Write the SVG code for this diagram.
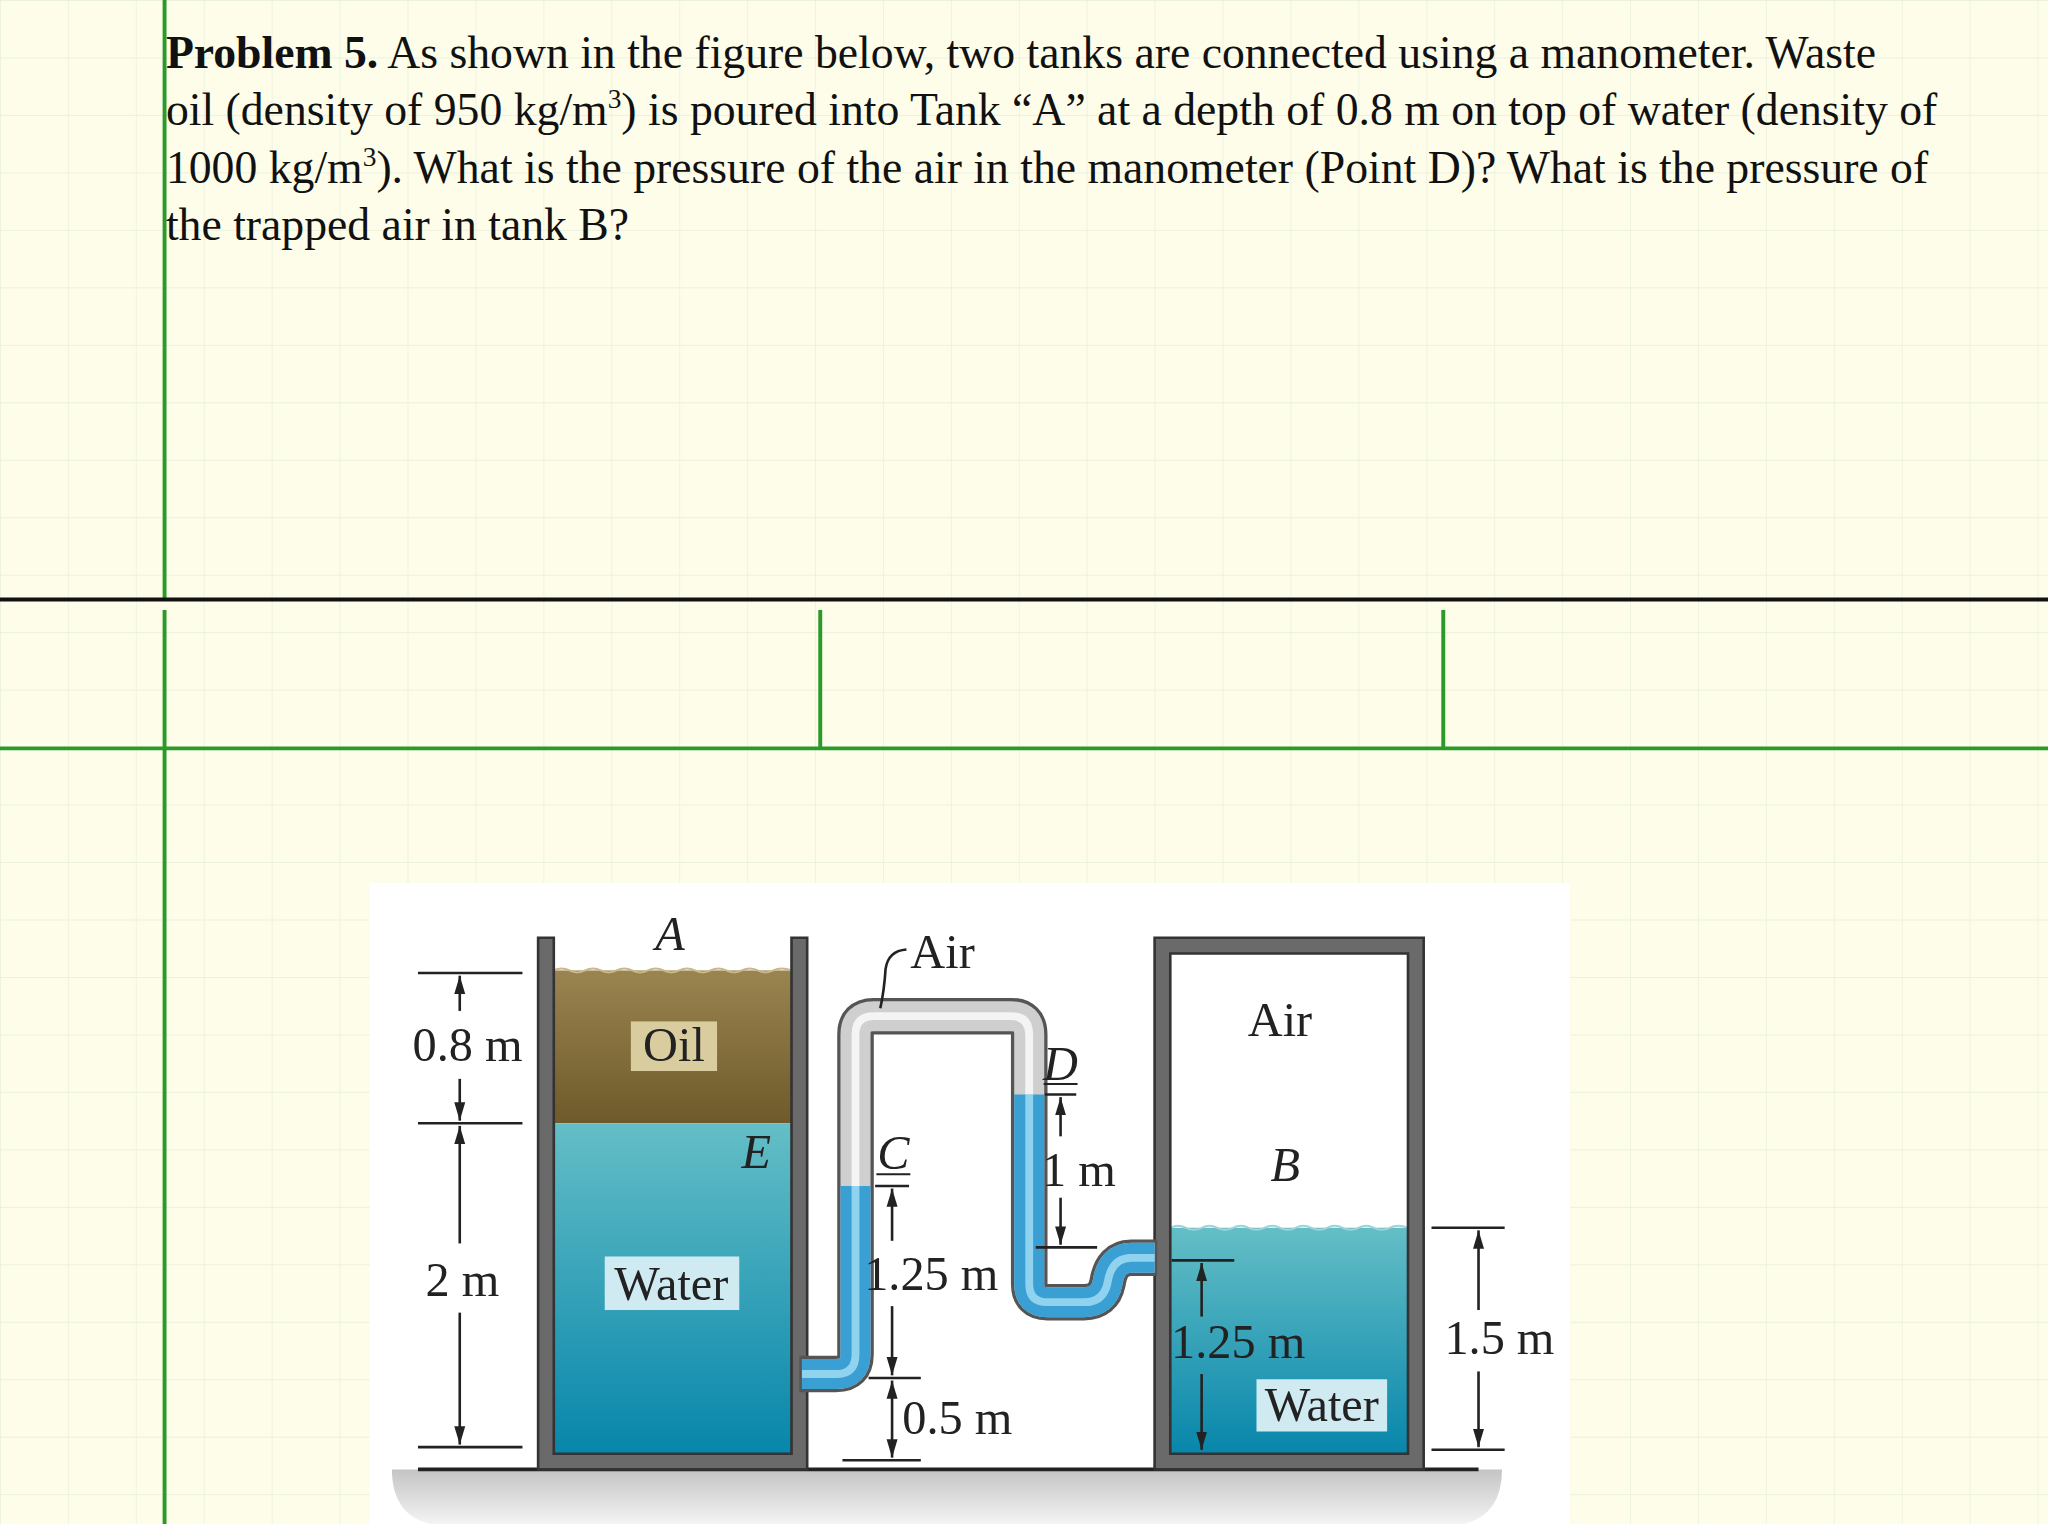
<svg xmlns="http://www.w3.org/2000/svg" width="2048" height="1524" viewBox="0 0 2048 1524">
<defs>
<pattern id="grid" width="52" height="44" patternUnits="userSpaceOnUse"><path d="M0 0H52M0 0V44" stroke="#e6eedb" stroke-width="1" fill="none"/></pattern>
<linearGradient id="oil" x1="0" y1="0" x2="0" y2="1"><stop offset="0" stop-color="#9a8450"/><stop offset="1" stop-color="#6e5a2a"/></linearGradient>
<linearGradient id="wat" x1="0" y1="0" x2="0" y2="1"><stop offset="0" stop-color="#64bec6"/><stop offset="1" stop-color="#0786ab"/></linearGradient>
<linearGradient id="gnd" x1="0" y1="0" x2="0" y2="1"><stop offset="0" stop-color="#c4c4c4"/><stop offset="1" stop-color="#f4f4f4"/></linearGradient>
<marker id="ar" viewBox="0 0 10 10" refX="10" refY="5" markerWidth="7" markerHeight="9" orient="auto-start-reverse"><path d="M0 2L10 5L0 8Z" fill="#222"/></marker>
<style>
.t{font-family:"Liberation Serif",serif;font-size:37px;fill:#222}
.h{font-family:"Liberation Serif",serif;font-size:35px;fill:#111}
.i{font-style:italic}
.d{stroke:#222;stroke-width:2;fill:none}
.wall{fill:#6a6a6a;stroke:#333;stroke-width:2}
.to{fill:none;stroke:#555;stroke-width:28;stroke-linejoin:round}
.ta{fill:none;stroke:#cfcfcf;stroke-width:23;stroke-linejoin:round}
.th{fill:none;stroke:#f4f4f4;stroke-width:6;stroke-linejoin:round}
.tw{fill:none;stroke:#3a9fd2;stroke-width:23;stroke-linejoin:round}
.twh{fill:none;stroke:#8fd3ef;stroke-width:6;stroke-linejoin:round}
</style>
</defs>
<g transform="scale(1.30612)">
<rect width="1568" height="1167" fill="#fdfdea"/>
<rect width="1568" height="1167" fill="url(#grid)"/>
<g id="frame">
<line x1="126" y1="0" x2="126" y2="458" stroke="#2a9a2a" stroke-width="3"/>
<line x1="126" y1="467" x2="126" y2="1167" stroke="#2a9a2a" stroke-width="3"/>
<line x1="0" y1="459" x2="1568" y2="459" stroke="#111" stroke-width="3"/>
<line x1="0" y1="573" x2="1568" y2="573" stroke="#2a9a2a" stroke-width="3"/>
<line x1="628" y1="467" x2="628" y2="573" stroke="#2a9a2a" stroke-width="3"/>
<line x1="1105" y1="467" x2="1105" y2="573" stroke="#2a9a2a" stroke-width="3"/>
</g>
<g id="problem-text">
<text class="h" x="127" y="52"><tspan font-weight="bold">Problem 5.</tspan> As shown in the figure below, two tanks are connected using a manometer. Waste</text>
<text class="h" x="127" y="96">oil (density of 950 kg/m<tspan font-size="21" dy="-13">3</tspan><tspan dy="13">) is poured into Tank “A” at a depth of 0.8 m on top of water (density of</tspan></text>
<text class="h" x="127" y="140">1000 kg/m<tspan font-size="21" dy="-13">3</tspan><tspan dy="13">). What is the pressure of the air in the manometer (Point D)? What is the pressure of</tspan></text>
<text class="h" x="127" y="184">the trapped air in tank B?</text>
</g>
<g id="figure">
<rect x="283" y="676" width="919" height="491" fill="#fff"/>
<path d="M300 1125H1150Q1150 1160 1120 1167H330Q300 1160 300 1125Z" fill="url(#gnd)"/>
<line x1="320" y1="1125" x2="1132" y2="1125" stroke="#222" stroke-width="3"/>
</g>
<g id="tankA">
<rect x="424" y="743" width="182" height="117" fill="url(#oil)"/>
<rect x="424" y="860" width="182" height="253" fill="url(#wat)"/>
<path d="M424 743 q6 -3 12 0 t12 0 t12 0 t12 0 t12 0 t12 0 t12 0 t12 0 t12 0 t12 0 t12 0 t12 0 t12 0 t12 0 t14 0" fill="none" stroke="#c9b98a" stroke-width="1.5"/>
<path class="wall" d="M412 718H424V1113H606V718H618V1125H412Z"/>
<text class="t i" x="513" y="727" text-anchor="middle">A</text>
<rect x="483" y="782" width="66" height="38" fill="#d9cc9e"/>
<text class="t" x="516" y="812" text-anchor="middle">Oil</text>
<text class="t i" x="579" y="894" text-anchor="middle">E</text>
<rect x="463" y="962" width="103" height="41" fill="#cfeaf0"/>
<text class="t" x="514" y="995" text-anchor="middle">Water</text>
</g>
<g id="tankB">
<rect x="896" y="940" width="182" height="173" fill="url(#wat)"/>
<path d="M896 940 q6 -3 12 0 t12 0 t12 0 t12 0 t12 0 t12 0 t12 0 t12 0 t12 0 t12 0 t12 0 t12 0 t12 0 t12 0 t14 0" fill="none" stroke="#9ed3dc" stroke-width="1.5"/>
<path class="wall" d="M884 718H1090V1125H884ZM896 730V1113H1078V730Z" fill-rule="evenodd"/>
<text class="t" x="980" y="793" text-anchor="middle">Air</text>
<text class="t i" x="984" y="904" text-anchor="middle">B</text>
<rect x="962" y="1056" width="100" height="40" fill="#cfeaf0"/>
<text class="t" x="1012" y="1088" text-anchor="middle">Water</text>
</g>
<g id="manometer">
<path class="to" d="M612 1052H640Q655 1052 655 1037V792Q655 778 669 778H774Q788 778 788 792V983Q788 997 802 997H830Q845 997 848 982Q851 963 866 963H886"/>
<path class="ta" d="M614 1052H640Q655 1052 655 1037V792Q655 778 669 778H774Q788 778 788 792V983Q788 997 802 997H830Q845 997 848 982Q851 963 866 963H884"/>
<path class="tw" d="M614 1052H640Q655 1052 655 1037V908"/>
<path class="tw" d="M788 838V983Q788 997 802 997H830Q845 997 848 982Q851 963 866 963H884"/>
<path class="th" d="M655 908V792Q655 778 669 778H774Q788 778 788 792V838"/>
<path class="twh" d="M614 1052H640Q655 1052 655 1037V908"/>
<path class="twh" d="M788 838V983Q788 997 802 997H830Q845 997 848 982Q851 963 866 963H884"/>
</g>
<g id="connectors">
<line class="d" x1="320" y1="745" x2="400" y2="745"/>
<line class="d" x1="320" y1="860" x2="400" y2="860"/>
<line class="d" x1="320" y1="1108" x2="400" y2="1108"/>
<line class="d" x1="352" y1="747" x2="352" y2="774" marker-start="url(#ar)"/>
<line class="d" x1="352" y1="826" x2="352" y2="858" marker-end="url(#ar)"/>
<line class="d" x1="352" y1="862" x2="352" y2="952" marker-start="url(#ar)"/>
<line class="d" x1="352" y1="1005" x2="352" y2="1106" marker-end="url(#ar)"/>
<path class="d" d="M694 727Q680 728 678 742Q677 758 674 772"/>
<line class="d" x1="800" y1="838" x2="824" y2="838"/>
<line class="d" x1="812" y1="840" x2="812" y2="870" marker-start="url(#ar)"/>
<line class="d" x1="812" y1="917" x2="812" y2="953" marker-end="url(#ar)"/>
<line class="d" x1="793" y1="955" x2="840" y2="955"/>
<line class="d" x1="670" y1="908" x2="696" y2="908"/>
<line class="d" x1="683" y1="910" x2="683" y2="950" marker-start="url(#ar)"/>
<line class="d" x1="683" y1="1000" x2="683" y2="1053" marker-end="url(#ar)"/>
<line class="d" x1="665" y1="1055" x2="705" y2="1055"/>
<line class="d" x1="683" y1="1057" x2="683" y2="1116" marker-start="url(#ar)" marker-end="url(#ar)"/>
<line class="d" x1="645" y1="1118" x2="705" y2="1118"/>
<line class="d" x1="897" y1="965" x2="945" y2="965"/>
<line class="d" x1="920" y1="967" x2="920" y2="1008" marker-start="url(#ar)"/>
<line class="d" x1="920" y1="1052" x2="920" y2="1110" marker-end="url(#ar)"/>
<line class="d" x1="1096" y1="940" x2="1152" y2="940"/>
<line class="d" x1="1096" y1="1110" x2="1152" y2="1110"/>
<line class="d" x1="1132" y1="942" x2="1132" y2="1003" marker-start="url(#ar)"/>
<line class="d" x1="1132" y1="1050" x2="1132" y2="1108" marker-end="url(#ar)"/>
</g>
<g id="labels">
<text class="t" x="358" y="812" text-anchor="middle">0.8 m</text>
<text class="t" x="354" y="992" text-anchor="middle">2 m</text>
<text class="t" x="697" y="741">Air</text>
<text class="t i" x="812" y="827" text-anchor="middle">D</text>
<line x1="799" y1="830" x2="825" y2="830" stroke="#222" stroke-width="1.5"/>
<text class="t" x="826" y="908" text-anchor="middle">1 m</text>
<text class="t i" x="684" y="895" text-anchor="middle">C</text>
<line x1="671" y1="899" x2="697" y2="899" stroke="#222" stroke-width="1.5"/>
<text class="t" x="713" y="988" text-anchor="middle">1.25 m</text>
<text class="t" x="733" y="1098" text-anchor="middle">0.5 m</text>
<text class="t" x="948" y="1040" text-anchor="middle">1.25 m</text>
<text class="t" x="1148" y="1037" text-anchor="middle">1.5 m</text>
</g>
</g>
</svg>
